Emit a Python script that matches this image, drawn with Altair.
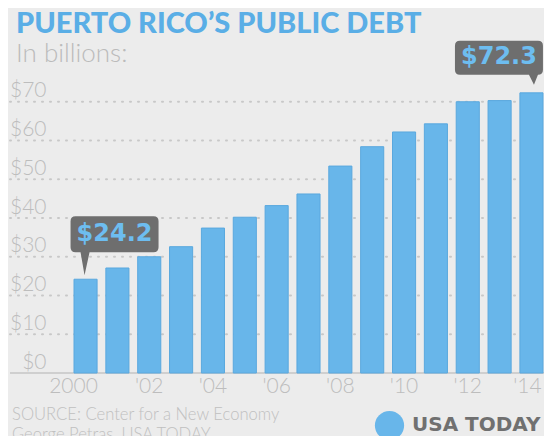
import altair as alt
import pandas as pd

# ---- data ----
years = [str(y) for y in range(2000, 2015)]
debt = [24.2, 27.1, 30.0, 32.6, 37.4, 40.2, 43.2, 46.2, 53.4, 58.4, 62.2, 64.3, 70.0, 70.3, 72.3]
y_ticks = [0, 10, 20, 30, 40, 50, 60, 70]
callout_years = ["2000", "2014"]
title_text = "PUERTO RICO\u2019S PUBLIC DEBT"
subtitle_text = "In billions:"
footer_lines = ["SOURCE: Center for a New Economy", "George Petras, USA TODAY"]
logo_text = "USA TODAY"

df = pd.DataFrame({"year": years, "debt": debt})
grid_df = pd.DataFrame({"v": y_ticks[1:]})
base_df = pd.DataFrame({"v": y_ticks[:1]})

BLUE = "#68b6ea"
GRAY_TXT = "#bdbdbd"
BG = "#ececec"

y_scale = alt.Scale(domain=[0, 80], nice=False)

x_enc = alt.X(
    "year:O",
    scale=alt.Scale(range=[64, 533], paddingInner=0.275, paddingOuter=0, round=False),
    axis=alt.Axis(
        title=None,
        labelAngle=0,
        ticks=False,
        tickSize=0,
        domain=False,
        grid=False,
        labelFont="Lato",
        labelFontWeight=300,
        labelFontSize=21,
        labelColor=GRAY_TXT,
        labelPadding=2,
        labelExpr="datum.value == '2000' ? '2000' : (toNumber(datum.value) % 2 == 0 ? \"'\" + slice(datum.value, 2) : '')",
        labelOffset=alt.ExprRef("datum.value == '2000' ? -12 : (datum.value == '2014' ? -4 : 0)"),
    ),
)

y_axis = alt.Axis(
    title=None,
    values=y_ticks,
    domain=False,
    ticks=False,
    tickSize=0,
    grid=False,
    labelAlign="right",
    labelBaseline="alphabetic",
    labelPadding=-36,
    labelOffset=-5,
    labelFont="Lato",
    labelFontWeight=300,
    labelFontSize=21,
    labelColor=GRAY_TXT,
    labelExpr="'$' + datum.value",
)

grid = alt.Chart(grid_df).mark_rule(
    color="#c8c8c8", strokeDash=[1, 7], strokeWidth=2, strokeCap="round"
).encode(y=alt.Y("v:Q", scale=y_scale, axis=y_axis), x=alt.value(0), x2=alt.value("width"))

baseline = alt.Chart(base_df).mark_rule(color="#c6c6c6", strokeWidth=1.5).encode(
    y=alt.Y("v:Q", scale=y_scale, axis=y_axis), x=alt.value(0), x2=alt.value("width"))

base = alt.Chart(df)

bars = base.mark_bar(fill=BLUE, stroke="#5aa8de", strokeWidth=1).encode(
    x=x_enc, y=alt.Y("debt:Q", scale=y_scale, axis=y_axis))

path_a = ("M -10 -63 L 68 -63 Q 73 -63 73 -58 L 73 -32 Q 73 -27 68 -27 L 4 -27 "
          "L -1 -4 L -5 -27 L -10 -27 Q -15 -27 -15 -32 L -15 -58 Q -15 -63 -10 -63 Z")
path_b = ("M -71.5 -52 L 6.5 -52 Q 11.5 -52 11.5 -47 L 11.5 -23 Q 11.5 -18 6.5 -18 L 6.5 -18 "
          "L 2.5 -8 L -2.5 -18 L -71.5 -18 Q -76.5 -18 -76.5 -23 L -76.5 -47 Q -76.5 -52 -71.5 -52 Z")

def callout(yr, path, dx, dy):
    sub = base.transform_filter(alt.datum.year == yr)
    box = sub.mark_point(shape=path, size=4, filled=True, fill="#6e6e6e",
                         opacity=1, strokeWidth=0).encode(x="year:O", y="debt:Q")
    txt = sub.mark_text(dx=dx, dy=dy, font="DejaVu Sans", fontWeight="bold", fontSize=24,
                        color="#6dbdf0", align="center", baseline="middle").encode(
        x="year:O", y="debt:Q", text=alt.Text("debt:Q", format="$.1f"))
    return box + txt

c1 = callout(callout_years[0], path_a, 29, -45)
c2 = callout(callout_years[1], path_b, -32.5, -35.5)

foot1 = alt.Chart(pd.DataFrame({"t": [footer_lines[0]]})).mark_text(
    align="left", baseline="alphabetic", font="Lato", fontWeight=300, fontSize=16.6, color="#c0c0c0"
).encode(text="t:N", x=alt.value(2), y=alt.value(357))
foot2 = alt.Chart(pd.DataFrame({"t": [footer_lines[1]]})).mark_text(
    align="left", baseline="alphabetic", font="Lato", fontWeight=300, fontSize=16.6, color="#c0c0c0"
).encode(text="t:N", x=alt.value(2), y=alt.value(377))
logo_dot = alt.Chart(pd.DataFrame({"t": [logo_text]})).mark_circle(
    color=BLUE, opacity=1, size=855
).encode(x=alt.value(379.5), y=alt.value(362.5))
logo = alt.Chart(pd.DataFrame({"t": [logo_text]})).mark_text(
    align="left", baseline="alphabetic", font="DejaVu Sans", fontWeight="bold", fontSize=20,
    color="#707070"
).encode(text="t:N", x=alt.value(402), y=alt.value(368))

chart = alt.layer(grid, baseline, bars, c1, c2, foot1, foot2, logo_dot, logo).properties(
    width=534,
    height=310,
    padding={"left": 2, "top": 55, "right": 0, "bottom": 63},
    autosize=alt.AutoSizeParams(type="none"),
    title=alt.Title(
        title_text,
        subtitle=subtitle_text,
        anchor="start",
        frame="group",
        dx=6,
        offset=-26,
        font="Lato",
        fontWeight=900,
        fontSize=29,
        color="#5aaee6",
        subtitleFont="Lato",
        subtitleFontWeight=300,
        subtitleFontSize=26,
        subtitleColor="#bbbbbb",
        subtitlePadding=2,
    ),
).configure(background=BG).configure_view(stroke=None)

chart.save("out.html", embed_options={"renderer": "svg", "actions": False})
